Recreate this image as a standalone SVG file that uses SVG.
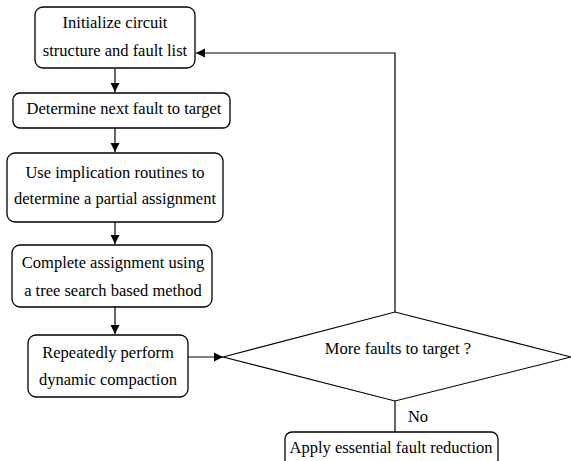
<svg xmlns="http://www.w3.org/2000/svg" width="571" height="461" viewBox="0 0 571 461">
<defs>
<marker id="ah" markerWidth="10" markerHeight="10" refX="9" refY="5" orient="auto" markerUnits="userSpaceOnUse">
<path d="M0,0.5 L9,5 L0,9.5 Z" fill="#000"/>
</marker>
<style>
.box{fill:#fff;stroke:#000;stroke-width:1.3}
.t{font-family:"Liberation Serif","Times New Roman",serif;font-size:16.5px;fill:#000;text-anchor:middle}
.c{fill:none;stroke:#000;stroke-width:1.2}
</style>
</defs>
<rect width="571" height="461" fill="#fff"/>
<g id="connectors">
<line class="c" x1="115" y1="69" x2="115" y2="92" marker-end="url(#ah)"/>
<line class="c" x1="115" y1="128" x2="115" y2="152" marker-end="url(#ah)"/>
<line class="c" x1="115" y1="222" x2="115" y2="244" marker-end="url(#ah)"/>
<line class="c" x1="115" y1="307" x2="115" y2="334" marker-end="url(#ah)"/>
<line class="c" x1="188" y1="357" x2="223" y2="357" marker-end="url(#ah)"/>
<polyline class="c" points="395,312 395,53 196,53" marker-end="url(#ah)"/>
<line class="c" x1="395" y1="401" x2="395" y2="432"/>
<text class="t" x="418" y="422">No</text>
</g>
<g id="n1">
<rect class="box" x="35" y="7" width="160" height="61" rx="8"/>
<text class="t" x="115" y="28">Initialize circuit</text>
<text class="t" x="115" y="56">structure and fault list</text>
</g>
<g id="n2">
<rect class="box" x="13" y="93" width="217" height="35" rx="7"/>
<text class="t" x="124" y="114">Determine next fault to target</text>
</g>
<g id="n3">
<rect class="box" x="7" y="153" width="216" height="69" rx="8"/>
<text class="t" x="115" y="178">Use implication routines to</text>
<text class="t" x="115" y="204">determine a partial assignment</text>
</g>
<g id="n4">
<rect class="box" x="12" y="245" width="200" height="62" rx="8"/>
<text class="t" x="113" y="268">Complete assignment using</text>
<text class="t" x="113" y="296">a tree search based method</text>
</g>
<g id="n5">
<rect class="box" x="28" y="335" width="160" height="62" rx="8"/>
<text class="t" x="108" y="358">Repeatedly perform</text>
<text class="t" x="108" y="385">dynamic compaction</text>
</g>
<g id="n6">
<polygon class="box" points="223,357 395,312 571,357 395,401" style="stroke-width:1.1"/>
<text class="t" x="398" y="354">More faults to target ?</text>
</g>
<g id="n7">
<rect class="box" x="285" y="432" width="213" height="40" rx="7"/>
<text class="t" x="391" y="453">Apply essential fault reduction</text>
</g>
</svg>
